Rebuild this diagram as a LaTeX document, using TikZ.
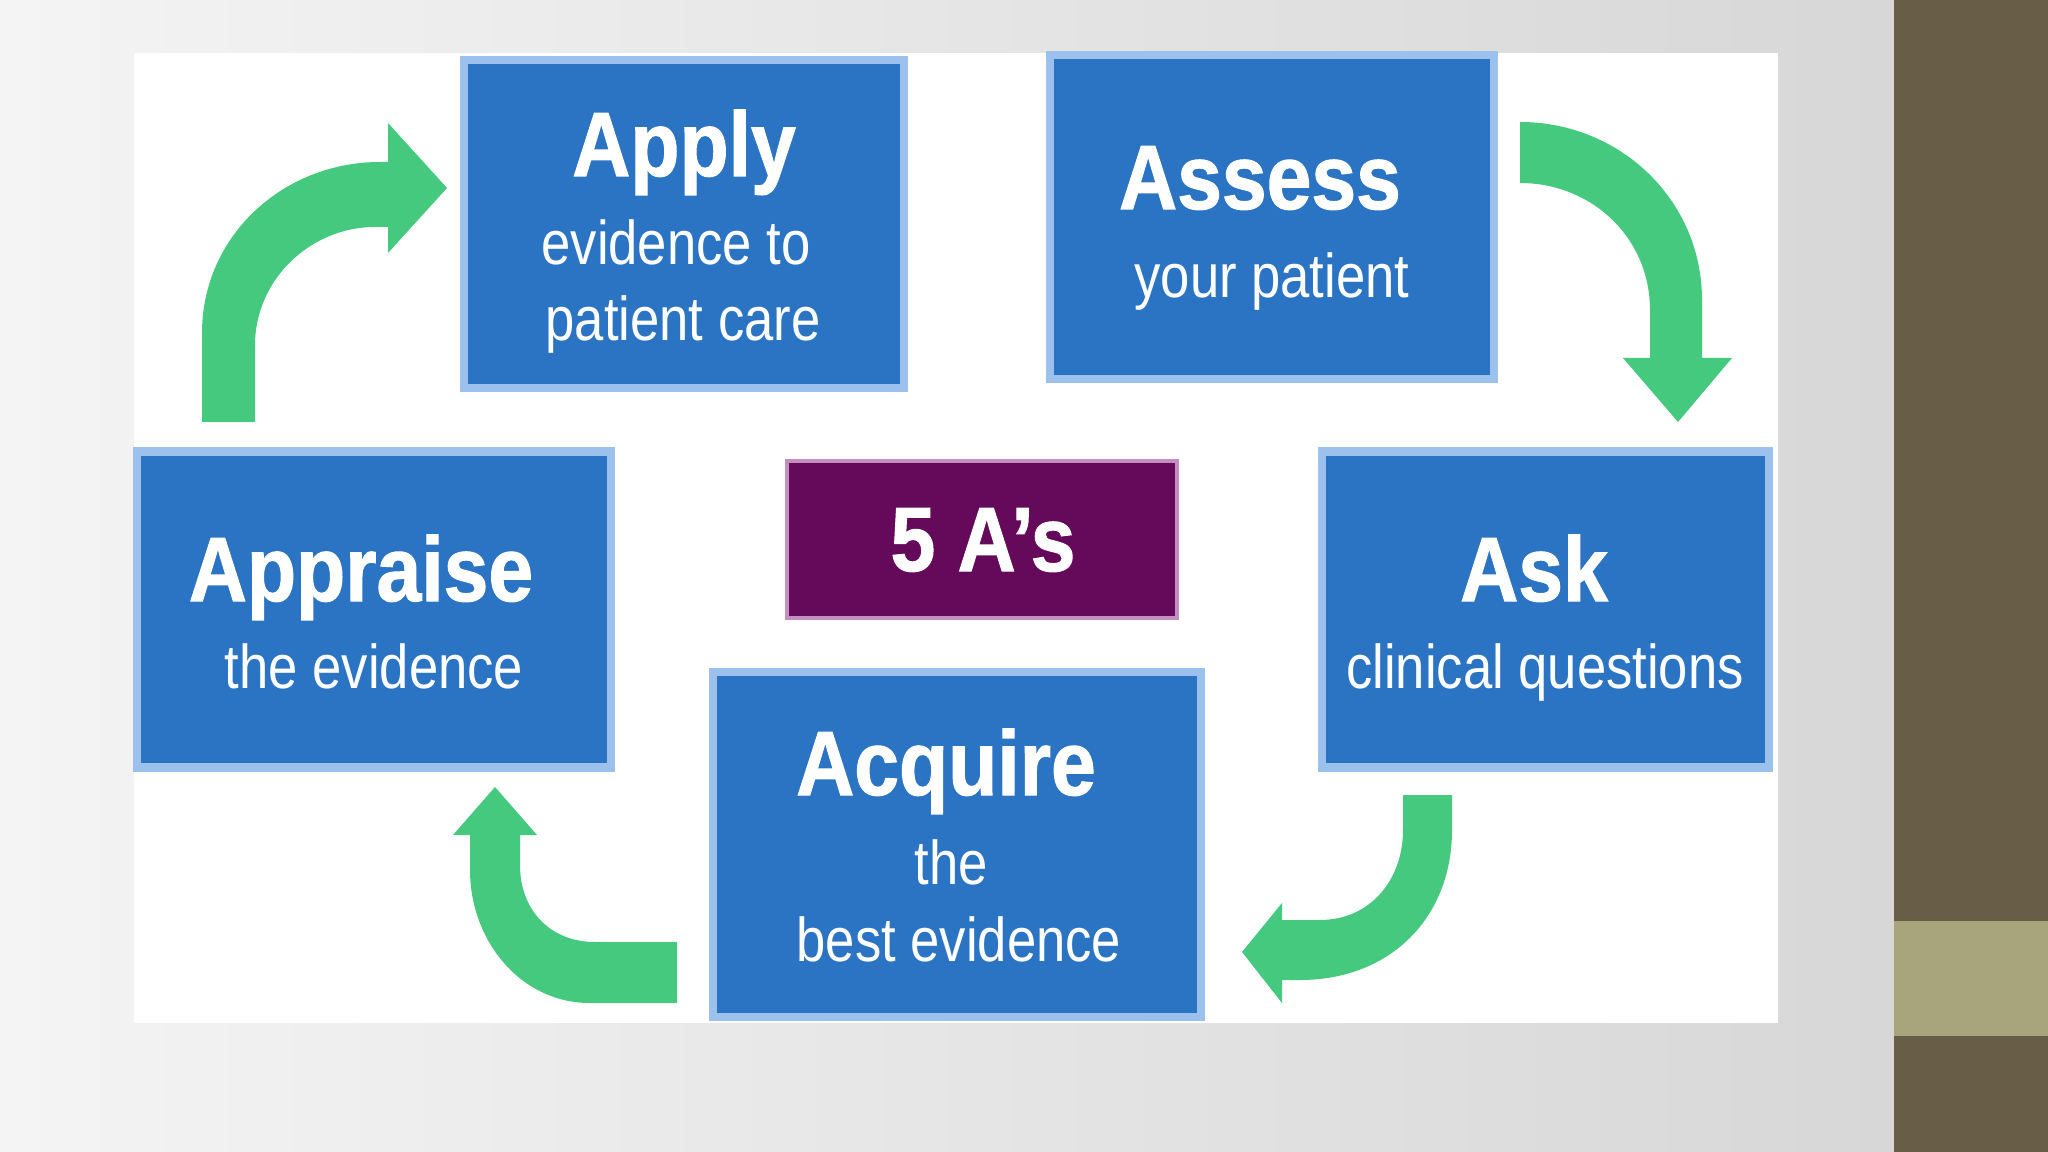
\documentclass[tikz,border=0pt]{standalone}
\usepackage{fontspec}
\setmainfont{Liberation Sans}
\newfontfamily\titlef[FakeStretch=0.88,FakeBold=1.2]{Liberation Sans}
\newfontfamily\subf[FakeStretch=0.85]{Liberation Sans}
\definecolor{boxblue}{HTML}{2B74C3}
\definecolor{boxedge}{HTML}{9CC1EC}
\definecolor{purplebox}{HTML}{650A5A}
\definecolor{purpleedge}{HTML}{C48FC0}
\definecolor{arrowgreen}{HTML}{45C97E}
\definecolor{bardark}{HTML}{685E48}
\definecolor{barlight}{HTML}{A8A47C}
\definecolor{bgleft}{HTML}{F4F4F4}
\definecolor{bgright}{HTML}{D7D7D7}
\tikzset{
  stepbox/.style={rectangle, fill=boxblue, draw=boxedge, line width=2.4pt, inner sep=0pt},
  centrebox/.style={rectangle, fill=purplebox, draw=purpleedge, line width=1.2pt, inner sep=0pt},
  titletext/.style={text=white, inner sep=0pt, anchor=base, font=\titlef\bfseries\fontsize{26}{30}\selectfont},
  subtext/.style={text=white, inner sep=0pt, anchor=base, font=\subf\fontsize{17.6}{20}\selectfont},
  greenarrow/.style={fill=arrowgreen, draw=none}
}
\begin{document}
\begin{tikzpicture}[x=0.01cm,y=-0.01cm]
\useasboundingbox (0,0) rectangle (2048,1152);
% background
\shade[left color=bgleft, right color=bgright] (0,0) rectangle (1894,1152);
\fill[bardark] (1894,0) rectangle (2048,1152);
\fill[barlight] (1894,921) rectangle (2048,1036);
% white panel
\fill[white] (134,53) rectangle (1778,1023);

% boxes
\node[stepbox, minimum width=4.40cm, minimum height=3.28cm] (apply) at (684,224) {};
\node[stepbox, minimum width=4.44cm, minimum height=3.24cm] (assess) at (1272,217) {};
\node[stepbox, minimum width=4.74cm, minimum height=3.16cm] (appraise) at (374,609.5) {};
\node[stepbox, minimum width=4.47cm, minimum height=3.16cm] (ask) at (1545.5,609.5) {};
\node[stepbox, minimum width=4.88cm, minimum height=3.45cm] (acquire) at (957,844.5) {};
\node[centrebox, minimum width=3.90cm, minimum height=1.57cm] (five) at (982,539.5) {};

% texts
\node[titletext] (applyT) at (684,176) {Apply};
\node[subtext] (applyS1) at (676,265) {evidence to};
\node[subtext] (applyS2) at (683,341) {patient care};

\node[titletext] (assessT) at (1260,209) {Assess};
\node[subtext] (assessS) at (1272,298) {your patient};

\node[titletext] (appraiseT) at (361,601) {Appraise};
\node[subtext] (appraiseS) at (374,688) {the evidence};

\node[titletext] (askT) at (1534,601) {Ask};
\node[subtext] (askS) at (1545,688) {clinical questions};

\node[titletext] (acquireT) at (946,795) {Acquire};
\node[subtext] (acquireS1) at (951,884) {the};
\node[subtext] (acquireS2) at (959,961) {best evidence};

\node[titletext] (fiveT) at (983,571) {5 A’s};

% green curved arrows
% Appraise -> Apply
\fill[greenarrow] (202,422) -- (202,333) .. controls (202,236) and (283,162) .. (380,162)
  -- (388,162) -- (388,123) -- (447,188) -- (388,253) -- (388,227) -- (375,227)
  .. controls (310,227) and (255,280) .. (255,345) -- (255,422) -- cycle;
% Assess -> Ask
\fill[greenarrow] (1520,122) .. controls (1620,122) and (1702,200) .. (1702,300)
  -- (1702,358) -- (1732,358) -- (1678,422) -- (1623,358) -- (1650,358) -- (1650,310)
  .. controls (1650,238) and (1592,183) .. (1520,183) -- cycle;
% Ask -> Acquire
\fill[greenarrow] (1403,795) -- (1452,795) -- (1452,830) .. controls (1452,918) and (1390,980) .. (1300,980)
  -- (1282,980) -- (1282,1003) -- (1242,952) -- (1282,903) -- (1282,920) -- (1320,920)
  .. controls (1370,920) and (1403,880) .. (1403,830) -- cycle;
% Acquire -> Appraise
\fill[greenarrow] (677,1003) -- (590,1003) .. controls (520,1003) and (470,940) .. (470,870)
  -- (470,835) -- (453,835) -- (495,787) -- (537,835) -- (520,835) -- (520,865)
  .. controls (520,910) and (550,942) .. (595,942) -- (677,942) -- cycle;
\end{tikzpicture}
\end{document}
